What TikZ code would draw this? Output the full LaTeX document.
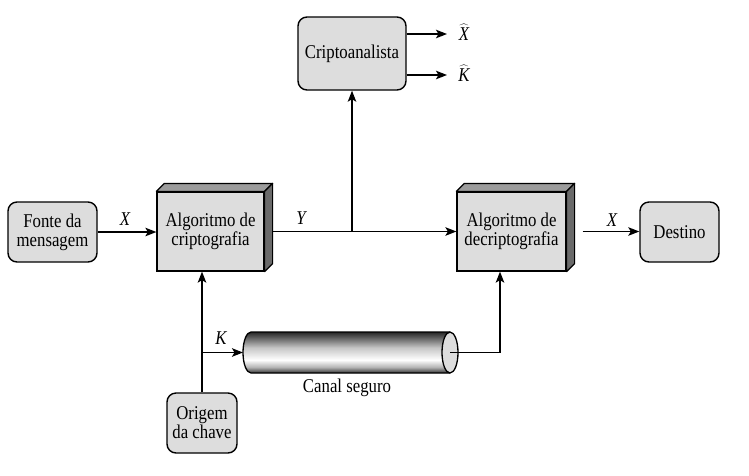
\documentclass[tikz,border=0pt]{standalone}
\usepackage{graphicx}
\usepackage{fontspec}
\setmainfont{Liberation Serif}
\usetikzlibrary{arrows.meta,calc}
\newcommand\cn[1]{\scalebox{0.86}[1]{#1}}
\definecolor{boxgray}{HTML}{DDDDDD}
\definecolor{topgray}{HTML}{9C9C9C}
\definecolor{sidegray}{HTML}{6A6A6A}
\pgfdeclareverticalshading{cylshade}{100bp}{color(0bp)=(black!80); color(25bp)=(black!80); color(32bp)=(gray!60); color(41bp)=(white); color(56bp)=(gray!45); color(75bp)=(black!85); color(100bp)=(black!85)}
\begin{document}
\begin{tikzpicture}[x=1pt,y=-1pt,
  txt/.style={font=\fontsize{19.5}{19}\selectfont, align=center},
  rbox/.style={draw, line width=1.4pt, rounded corners=9pt, fill=boxgray, txt, inner sep=0pt},
  fbox/.style={draw, line width=1.2pt, fill=boxgray, txt, inner sep=0pt},
  arr/.style={line width=1.5pt, -{Stealth[length=11pt,width=8.5pt,inset=2.5pt]}},
  plain/.style={line width=1.5pt},
  lbl/.style={font=\fontsize{19.5}{19}\selectfont\itshape, inner sep=0pt},
  face/.style={draw, line width=1.2pt, line join=round}]
\useasboundingbox (0,0) rectangle (749,475);
\fill[white] (0,0) rectangle (749,475);

% nodes
\node[rbox, minimum width=89pt, minimum height=60pt] (fonte) at (52.5,232) {\cn{Fonte da}\\\cn{mensagem}};
\node[fbox, minimum width=107pt, minimum height=79pt] (enc) at (210.5,231.5) {\cn{Algoritmo de}\\\cn{criptografia}};
\node[rbox, minimum width=108pt, minimum height=73pt] (crypt) at (352,53.5) {\cn{Criptoanalista}};
\node[fbox, minimum width=109pt, minimum height=79pt] (dec) at (511.5,231.5) {\cn{Algoritmo de}\\\cn{decriptografia}};
\node[rbox, minimum width=79pt, minimum height=60pt] (dest) at (679.5,232) {\cn{Destino}};
\node[rbox, minimum width=70pt, minimum height=60pt] (orig) at (202,423) {\cn{Origem}\\\cn{da chave}};

% labels
\node[lbl, anchor=base] (lx1) at (125,225) {\cn{X}};
\node[lbl, anchor=base] (ly) at (301,224) {\cn{Y}};
\node[lbl, anchor=base] (lx2) at (612,226) {\cn{X}};
\node[lbl, anchor=base] (lk) at (221,344) {\cn{K}};
\node[lbl, anchor=base] (xhat) at (464,40) {\cn{$\widehat{\mathit{X}}$}};
\node[lbl, anchor=base] (khat) at (464,81) {\cn{$\widehat{\mathit{K}}$}};
\node[txt, anchor=base] (canal) at (347,392) {\cn{Canal seguro}};

% cylinder (secure channel)
\coordinate (cL) at (243,352.5);
\coordinate (cR) at (450,352.5);
\shade[shading=cylshade] (251,332) -- (450,332) -- (450,373) -- (251,373)
  arc[start angle=270, end angle=90, x radius=8pt, y radius=20.5pt] -- cycle;
\draw[line width=1.3pt] (450,332) -- (251,332)
  arc[start angle=90, end angle=270, x radius=8pt, y radius=20.5pt] -- (450,373);
\draw[line width=1.3pt, fill=boxgray] (cR) ellipse[x radius=8pt, y radius=20.5pt];

% connectors
\draw[arr] (fonte.east) -- (fonte.east -| enc.west);
\coordinate (j) at (crypt.south |- enc.east);
\draw[arr] (enc.east) -- (dec.west);
\draw[arr] (j) -- (crypt.south);
\coordinate (xh) at (447,34);
\coordinate (kh) at (447,75);
\draw[arr] (crypt.east |- xh) -- (xh);
\draw[arr] (crypt.east |- kh) -- (kh);
\coordinate (decout) at ($(dec.east)+(16,0)$);
\draw[arr] (decout) -- (decout -| dest.west);
\draw[arr] (orig.north) -- (orig.north |- enc.south);
\coordinate (kj) at (orig.north |- cL);
\draw[arr] (kj) -- (cL);
\coordinate (dk) at (500,352.5);
\draw[plain] (cR) -- (dk);
\draw[arr] (dk) -- (dk |- dec.south);

% 3D faces
\foreach \b in {enc,dec}{
  \filldraw[face, fill=topgray] (\b.north west) -- ++(8,-8) -- ($(\b.north east)+(8,-8)$) -- (\b.north east) -- cycle;
  \filldraw[face, fill=sidegray] (\b.north east) -- ++(8,-8) -- ($(\b.south east)+(8,-8)$) -- (\b.south east) -- cycle;
}
\end{tikzpicture}
\end{document}
